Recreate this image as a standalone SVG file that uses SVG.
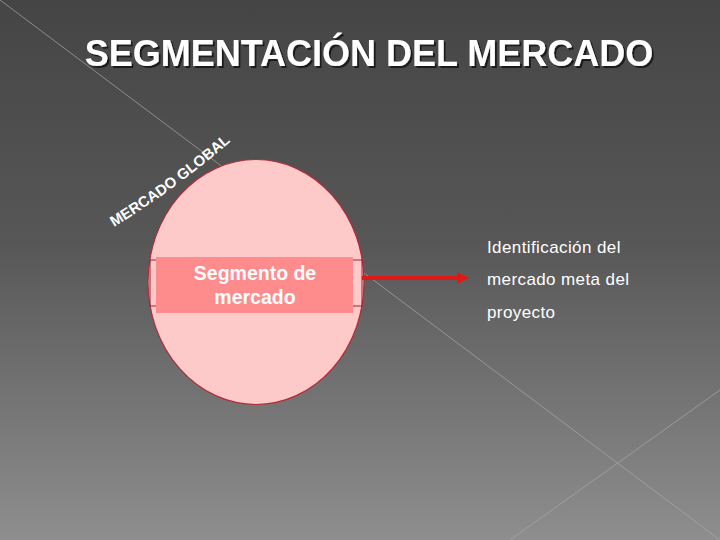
<svg xmlns="http://www.w3.org/2000/svg" xmlns:xlink="http://www.w3.org/1999/xlink" width="720" height="540" viewBox="0 0 720 540">
  <defs>
    <linearGradient id="bg" x1="0" y1="0" x2="0" y2="1">
      <stop offset="0" stop-color="#454545"/>
      <stop offset="0.45" stop-color="#575757"/>
      <stop offset="1" stop-color="#8e8e8e"/>
    </linearGradient>
    <filter id="shadow" x="-5%" y="-20%" width="110%" height="150%">
      <feOffset in="SourceAlpha" dx="2" dy="2" result="off"/>
      <feFlood flood-color="#1a1a1a" flood-opacity="0.9"/>
      <feComposite in2="off" operator="in" result="sh"/>
      <feMerge>
        <feMergeNode in="sh"/>
        <feMergeNode in="SourceGraphic"/>
      </feMerge>
    </filter>
    <marker id="arrowhead" markerWidth="4" markerHeight="4" refX="1" refY="2" orient="auto" markerUnits="strokeWidth">
      <path d="M0,0.5 L3,2 L0,3.5 Z" fill="#e01818"/>
    </marker>
    <path id="arcPath" d="M114,227 Q175,190 236,137"/>
    <style>
      .title { font-family: "Liberation Sans", Arial, sans-serif; font-weight: bold; font-size: 36px; text-anchor: middle; fill: #ffffff; }
      .arc { font-family: "Liberation Sans", Arial, sans-serif; font-weight: bold; font-size: 15px; fill: #ffffff; }
      .seg { font-family: "Liberation Sans", Arial, sans-serif; font-weight: bold; font-size: 19.5px; fill: #ffffff; text-anchor: middle; }
      .side { font-family: "Liberation Sans", Arial, sans-serif; font-size: 17px; letter-spacing: 0.4px; fill: #ffffff; }
      .bgline { stroke: #a8a8a8; stroke-width: 1; opacity: 0.7; }
    </style>
  </defs>

  <rect x="0" y="0" width="720" height="540" fill="url(#bg)"/>
  <line class="bgline" x1="0" y1="0" x2="720" y2="540"/>
  <line class="bgline" x1="510" y1="540" x2="720" y2="390"/>

  <g id="title">
    <text class="title" x="369" y="66" filter="url(#shadow)">SEGMENTACIÓN DEL MERCADO</text>
  </g>

  <g id="mercado-global">
    <ellipse cx="256" cy="282" rx="108" ry="122.5" fill="#fec9c9" stroke="#b02a36" stroke-width="1.2"/>
    <text class="arc"><textPath xlink:href="#arcPath" href="#arcPath">MERCADO GLOBAL</textPath></text>
  </g>

  <g id="segmento">
    <path d="M156,260 L150,260 L150,306 L156,306 M353,260 L362,260 L362,306 L353,306" fill="none" stroke="#a02030" stroke-width="1"/>
    <rect x="156" y="257" width="197" height="56" fill="#fe8c8c"/>
    <text class="seg" x="255" y="279.5">Segmento de</text>
    <text class="seg" x="255" y="303.5">mercado</text>
  </g>

  <g id="connectors">
    <line x1="362" y1="278" x2="461" y2="278" stroke="#e01818" stroke-width="4" marker-end="url(#arrowhead)"/>
  </g>

  <g id="identificacion">
    <text class="side" x="487" y="253">Identificación del</text>
    <text class="side" x="487" y="285">mercado meta del</text>
    <text class="side" x="487" y="318">proyecto</text>
  </g>
</svg>
